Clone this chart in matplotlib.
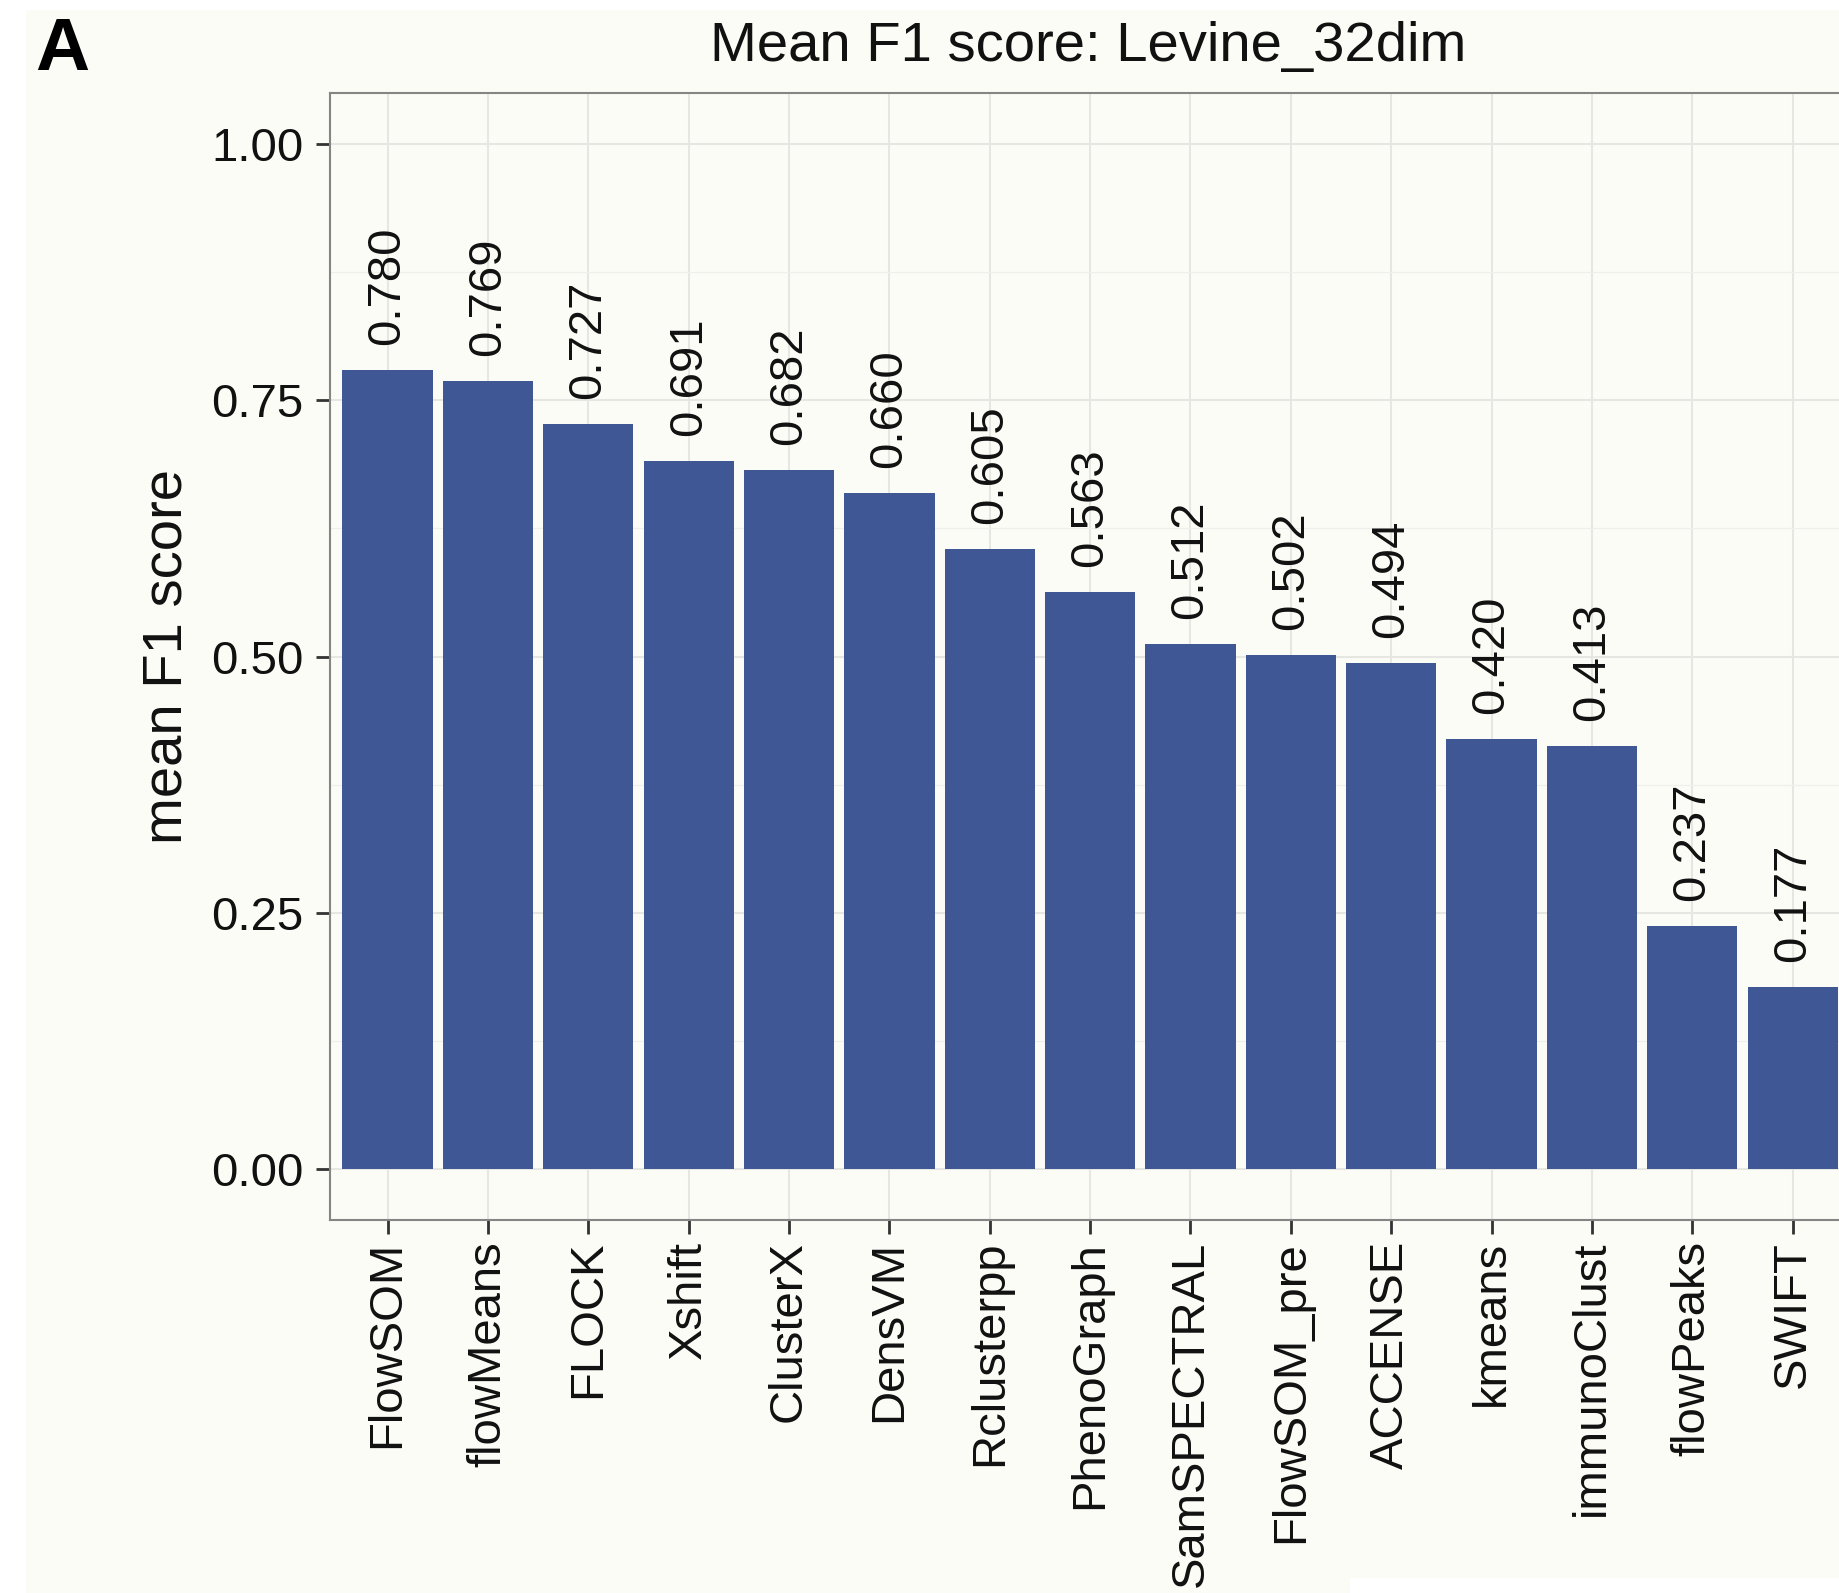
import matplotlib
matplotlib.use("Agg")
import matplotlib.pyplot as plt
from matplotlib.patches import Rectangle
from matplotlib.ticker import MultipleLocator

methods = ["FlowSOM", "flowMeans", "FLOCK", "Xshift", "ClusterX", "DensVM",
           "Rclusterpp", "PhenoGraph", "SamSPECTRAL", "FlowSOM_pre", "ACCENSE",
           "kmeans", "immunoClust", "flowPeaks", "SWIFT"]
mean_f1 = [0.780, 0.769, 0.727, 0.691, 0.682, 0.660, 0.605, 0.563, 0.512,
           0.502, 0.494, 0.420, 0.413, 0.237, 0.177]
y_ticks = [0.00, 0.25, 0.50, 0.75, 1.00]

W, H = 1840, 1593
BG = "#fcfcf6"
BAR = "#405796"
TXT = "#111111"

plt.rcParams["font.family"] = ["Liberation Sans", "DejaVu Sans"]

fig = plt.figure(figsize=(W / 100, H / 100), dpi=100, facecolor=BG)

# crop artefacts of the scanned panel
fig.patches.append(Rectangle((0, 0), 26 / W, 1, transform=fig.transFigure,
                             facecolor="white", edgecolor="none", zorder=0))
fig.patches.append(Rectangle((0, 1 - 10 / H), 1, 10 / H, transform=fig.transFigure,
                             facecolor="white", edgecolor="none", zorder=0))
fig.patches.append(Rectangle((1350 / W, 0), 1 - 1350 / W, 15 / H,
                             transform=fig.transFigure,
                             facecolor="white", edgecolor="none", zorder=0))

# axes box: y 0 -> 1168.8px, 1 -> 144.3px ; x panel from 330px to past the right edge
px_per_unit = 1024.5
y0 = 1168.8 + 0.05 * px_per_unit
y1 = 144.3 - 0.05 * px_per_unit
left = 330 / W
ax = fig.add_axes([left, 1 - y0 / H, 1 - left + 0.001, (y0 - y1) / H])
ax.set_facecolor(BG)

x = list(range(len(methods)))
ax.bar(x, mean_f1, width=0.9, color=BAR, zorder=2)
for xi, v in zip(x, mean_f1):
    ax.annotate(f"{v:.3f}", (xi, v), xytext=(0, 18), textcoords="offset points",
                rotation=90, ha="center", va="bottom", fontsize=34, color=TXT)

ax.set_xlim(-0.574, 14.49)
ax.set_ylim(-0.05, 1.05)
ax.set_xticks(x)
ax.set_xticklabels(methods, rotation=90, fontsize=34, color=TXT)
ax.set_yticks(y_ticks)
ax.set_yticklabels([f"{t:.2f}" for t in y_ticks], fontsize=34, color=TXT)
ax.yaxis.set_minor_locator(MultipleLocator(0.125))

ax.set_axisbelow(True)
ax.grid(True, which="major", color="#e6e6e2", linewidth=1.5, zorder=0)
ax.grid(True, which="minor", axis="y", color="#efefeb", linewidth=0.9, zorder=0)
ax.tick_params(which="major", length=10, width=2.0, color="#333333")
ax.tick_params(axis="y", which="major", pad=9)
ax.tick_params(axis="x", which="major", pad=5)
ax.tick_params(which="minor", length=0)

for side in ["left", "top", "bottom"]:
    ax.spines[side].set_color("#858585")
    ax.spines[side].set_linewidth(1.5)
ax.spines["right"].set_visible(False)

fig.text(168 / W, 1 - 656 / H, "mean F1 score", rotation=90, ha="center",
         va="center", fontsize=40.5, color=TXT)
fig.text(1088 / W, 1 - 61 / H, "Mean F1 score: Levine_32dim", ha="center",
         va="baseline", fontsize=40.5, color=TXT)
fig.text(35 / W, 1 - 70 / H, "A", ha="left", va="baseline", fontsize=54,
         fontweight="bold", color="black")

fig.savefig("out.png", dpi=100, facecolor=BG)
